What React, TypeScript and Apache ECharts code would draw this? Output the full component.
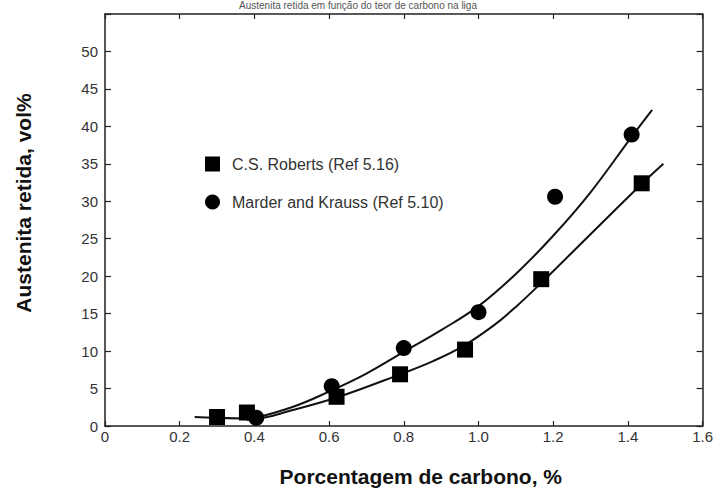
import React, { useEffect, useRef } from "react";
import * as echarts from "echarts";

const robertsData: [number, number][] = [
  [0.30, 1.2], [0.38, 1.8], [0.62, 3.9], [0.79, 6.9], [0.964, 10.2], [1.168, 19.6], [1.437, 32.4],
];
const marderData: [number, number][] = [
  [0.405, 1.1], [0.607, 5.3], [0.80, 10.4], [1.0, 15.2], [1.205, 30.6], [1.41, 38.9],
];
const robertsCurve: [number, number][] = [
  [0.24, 1.2], [0.4, 1.0], [0.5, 2.1], [0.62, 3.8], [0.79, 6.9], [0.88, 8.7], [0.96, 10.7],
  [1.04, 13.4], [1.1, 15.9], [1.168, 19.1], [1.3, 25.6], [1.437, 32.3], [1.495, 35.0],
];
const marderCurve: [number, number][] = [
  [0.38, 0.8], [0.5, 2.5], [0.6, 4.6], [0.7, 7.0], [0.8, 9.9], [0.9, 12.8], [1.0, 16.0],
  [1.1, 20.3], [1.2, 25.4], [1.3, 31.2], [1.41, 38.6], [1.465, 42.2],
];
const xTicks = { min: 0, max: 1.6, interval: 0.2 };
const yTicks = { min: 0, max: 55, interval: 5, lastLabel: 50 };

const seriesNames = ["C.S. Roberts (Ref 5.16)", "Marder and Krauss (Ref 5.10)"];
const xName = "Porcentagem de carbono, %";
const yName = "Austenita retida, vol%";
const titleText = "Austenita retida em função do teor de carbono na liga";

const FONT = "Liberation Sans, Arial, sans-serif";
const AX = "#222";

export default function App() {
  const ref = useRef<HTMLDivElement>(null);
  useEffect(() => {
    if (!ref.current) return;
    const chart = echarts.init(ref.current, undefined, { renderer: "svg" });
    const axisLine = { show: true, onZero: false, lineStyle: { color: AX, width: 1.5 } };
    const tick = { show: true, inside: true, length: 5, lineStyle: { color: AX, width: 1.2 } };
    chart.setOption({
      animation: false,
      backgroundColor: "#fff",
      textStyle: { fontFamily: FONT },
      grid: { left: 105, right: 5, top: 14, bottom: 60, containLabel: false },
      graphic: [
        {
          type: "text",
          left: "center",
          top: 0,
          style: { text: titleText, font: `10px ${FONT}`, fill: "#555" },
        },
      ],
      legend: {
        orient: "vertical",
        left: 200,
        top: 151,
        itemWidth: 15,
        itemHeight: 15,
        itemGap: 22,
        data: [
          { name: seriesNames[0], icon: "rect" },
          { name: seriesNames[1], icon: "circle" },
        ],
        textStyle: { fontFamily: FONT, fontSize: 16, color: "#333", padding: [0, 0, 0, 7] },
      },
      xAxis: [
        {
          type: "value",
          min: xTicks.min,
          max: xTicks.max,
          interval: xTicks.interval,
          position: "bottom",
          axisLine,
          axisTick: tick,
          splitLine: { show: false },
          axisLabel: {
            color: "#333",
            fontSize: 15,
            fontFamily: FONT,
            margin: 3,
            formatter: (v: number) => (v === 0 ? "0" : v.toFixed(1)),
          },
          name: xName,
          nameLocation: "middle",
          nameGap: 40,
          nameTextStyle: {
            fontFamily: FONT,
            fontSize: 21,
            fontWeight: "bold",
            color: "#111",
            padding: [0, 0, 0, 34],
          },
        },
        {
          type: "value",
          min: xTicks.min,
          max: xTicks.max,
          interval: xTicks.interval,
          position: "top",
          axisLine,
          axisTick: tick,
          splitLine: { show: false },
          axisLabel: { show: false },
        },
      ],
      yAxis: [
        {
          type: "value",
          min: yTicks.min,
          max: yTicks.max,
          interval: yTicks.interval,
          position: "left",
          axisLine,
          axisTick: { ...tick, length: 6 },
          splitLine: { show: false },
          axisLabel: {
            color: "#333",
            fontSize: 15,
            fontFamily: FONT,
            margin: 7,
            formatter: (v: number) => (v > yTicks.lastLabel ? "" : String(v)),
          },
          name: yName,
          nameLocation: "middle",
          nameGap: 71,
          nameTextStyle: {
            fontFamily: FONT,
            fontSize: 21,
            fontWeight: "bold",
            color: "#111",
            padding: [0, 0, 0, 34],
          },
        },
        {
          type: "value",
          min: yTicks.min,
          max: yTicks.max,
          interval: yTicks.interval,
          position: "right",
          axisLine,
          axisTick: { ...tick, length: 6 },
          splitLine: { show: false },
          axisLabel: { show: false },
        },
      ],
      series: [
        {
          type: "line",
          name: "robertsFit",
          data: robertsCurve,
          smooth: 0.4,
          showSymbol: false,
          symbol: "none",
          lineStyle: { color: "#111", width: 2 },
          z: 2,
        },
        {
          type: "line",
          name: "marderFit",
          data: marderCurve,
          smooth: 0.4,
          showSymbol: false,
          symbol: "none",
          lineStyle: { color: "#111", width: 2 },
          z: 2,
        },
        {
          type: "scatter",
          name: seriesNames[0],
          data: robertsData,
          symbol: "rect",
          symbolSize: 16,
          itemStyle: { color: "#000", opacity: 1 },
          z: 3,
        },
        {
          type: "scatter",
          name: seriesNames[1],
          data: marderData,
          symbol: "circle",
          symbolSize: 16,
          itemStyle: { color: "#000", opacity: 1 },
          z: 3,
        },
      ],
    });
    return () => chart.dispose();
  }, []);
  return (
    <div
      ref={ref}
      style={{ position: "fixed", left: 0, top: 0, width: 716, height: 492, background: "#fff" }}
    />
  );
}
